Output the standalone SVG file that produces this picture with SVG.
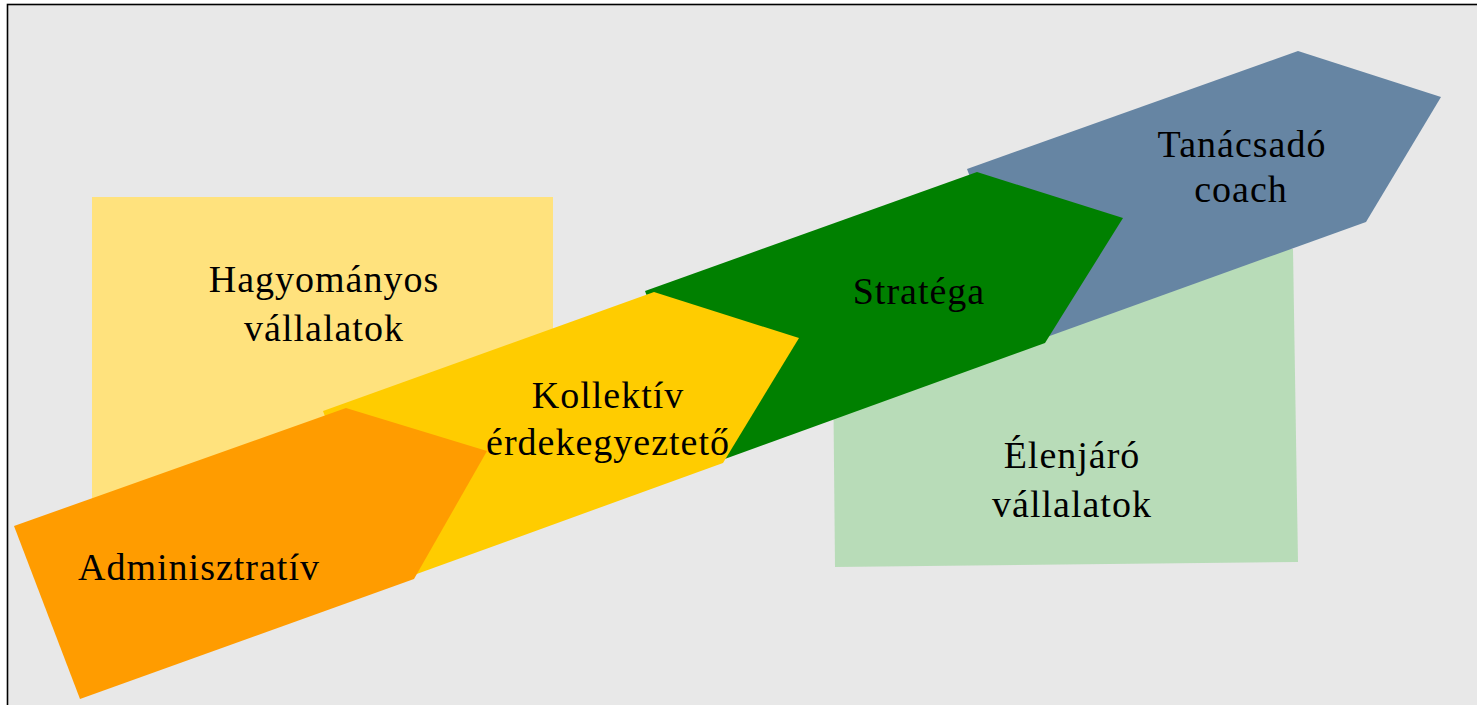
<svg xmlns="http://www.w3.org/2000/svg" width="1477" height="705" viewBox="0 0 1477 705">
  <style>
    .lbl { font-family: "Liberation Serif", "Times New Roman", serif; font-size: 38px; letter-spacing: 1px; fill: #000; text-anchor: middle; }
  </style>
  <rect x="0" y="0" width="1477" height="705" fill="#ffffff"/>
  <!-- frame -->
  <rect x="7.5" y="4.5" width="1485" height="720" fill="#e8e8e8" stroke="#000" stroke-width="1.6"/>

  <!-- background zones -->
  <g id="zone-traditional">
    <rect x="92" y="197" width="461" height="313" fill="#ffe27d"/>
    <text class="lbl" x="324" y="292">Hagyományos</text>
    <text class="lbl" x="324" y="341">vállalatok</text>
  </g>
  <g id="zone-leading">
    <polygon points="832,255 1293,249 1298,562 835,567" fill="#b8dcb8"/>
    <text class="lbl" x="1072" y="468">Élenjáró</text>
    <text class="lbl" x="1072" y="517">vállalatok</text>
  </g>

  <!-- stepped chevrons, drawn back to front -->
  <g id="step-advisor">
    <polygon points="967,169 1298,51 1441,97 1366,222 1033,342" fill="#6685a3"/>
    <text class="lbl" x="1242" y="157">Tanácsadó</text>
    <text class="lbl" x="1241" y="202">coach</text>
  </g>
  <g id="step-strategist">
    <polygon points="645,291 977,172 1123,218 1045,343 711,464" fill="#008000"/>
    <text class="lbl" x="919" y="304">Stratéga</text>
  </g>
  <g id="step-collective">
    <polygon points="323,411 654,292 799,338 723,463 389,584" fill="#ffcc00"/>
    <text class="lbl" x="608" y="408">Kollektív</text>
    <text class="lbl" x="608" y="455">érdekegyeztető</text>
  </g>
  <g id="step-admin">
    <polygon points="14,526 346,408 487,451 414,579 80,699" fill="#ff9c00"/>
    <text class="lbl" x="199" y="580">Adminisztratív</text>
  </g>

  <g id="connectors"></g>
</svg>
